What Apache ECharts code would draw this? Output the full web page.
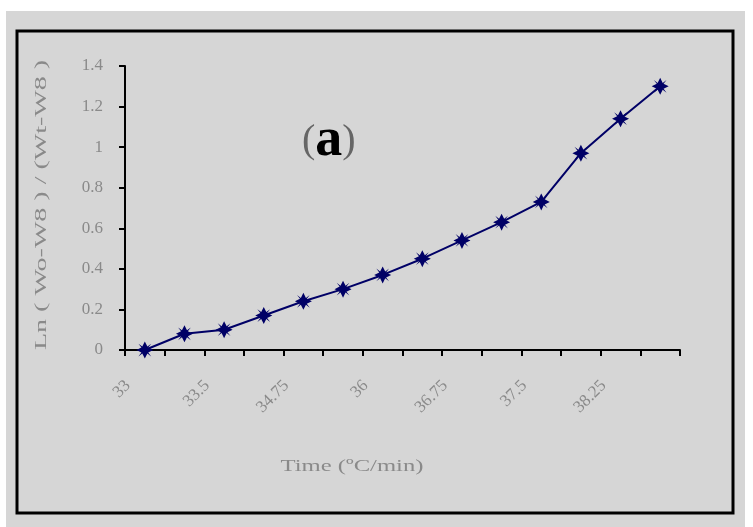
<!DOCTYPE html>
<html>
<head>
<meta charset="utf-8">
<script src="https://cdn.jsdelivr.net/npm/echarts@6/dist/echarts.min.js"></script>
<style>
html,body{margin:0;padding:0;background:#ffffff;}
#chart{width:753px;height:527px;}
</style>
</head>
<body>
<div id="chart"></div>
<script>
// categories (heating temperature / time axis); only every other label is shown
var categories = ["33", "33.25", "33.5", "34.1", "34.75", "35.4", "36", "36.4", "36.75", "37.1", "37.5", "37.9", "38.25", "38.6"];
// Ln (Wo-W8)/(Wt-W8) values
var values = [0, 0.08, 0.10, 0.17, 0.24, 0.30, 0.37, 0.45, 0.54, 0.63, 0.73, 0.97, 1.14, 1.30];
var yTicks = [0, 0.2, 0.4, 0.6, 0.8, 1, 1.2, 1.4];
var xTitle = 'Time (\u00baC/min)';
var yTitle = 'Ln ( Wo-W8 ) / (Wt-W8 )';

var chart = echarts.init(document.getElementById('chart'), null, {renderer: 'canvas'});
var serif = '"Liberation Serif", "DejaVu Serif", serif';
var starPath = 'path://M0,-10 L3,-4 L7.5,-7.5 L4,-3 L10,0 L4,3 L7.5,7.5 L3,4 L0,10 L-3,4 L-7.5,7.5 L-4,3 L-10,0 L-4,-3 L-7.5,-7.5 L-3,-4 Z';

var option = {
  backgroundColor: '#ffffff',
  animation: false,
  graphic: [
    {type: 'rect', z: -10, shape: {x: 6, y: 11, width: 739, height: 516}, style: {fill: '#d6d6d6'}},
    {type: 'rect', z: -9, shape: {x: 17, y: 31, width: 716, height: 482}, style: {fill: 'none', stroke: '#000000', lineWidth: 3}},
    {type: 'text', x: 302, y: 114, z: 10,
      style: {
        text: '{p|(}{a|a}{p|)}',
        rich: {
          p: {fontFamily: serif, fontSize: 40, fill: '#666666'},
          a: {fontFamily: serif, fontSize: 54, fontWeight: 'bold', fill: '#000000'}
        }
      }
    },
    {type: 'text', x: 352, y: 467, scaleX: 1.45, z: 10,
      style: {text: xTitle, fontFamily: serif, fontSize: 17, fill: '#8a8a8a', align: 'center', verticalAlign: 'middle'}
    },
    {type: 'text', x: 42, y: 205, rotation: Math.PI / 2, scaleX: 1.75, z: 10,
      style: {text: yTitle, fontFamily: serif, fontSize: 16, fill: '#8a8a8a', align: 'center', verticalAlign: 'middle'}
    }
  ],
  grid: {left: 125, right: 73, top: 66, bottom: 177, containLabel: false},
  xAxis: {
    type: 'category',
    data: categories,
    boundaryGap: true,
    axisLine: {lineStyle: {color: '#000000', width: 2}},
    axisTick: {show: true, interval: 0, alignWithLabel: false, length: 6, lineStyle: {color: '#000', width: 2}},
    axisLabel: {interval: 1, rotate: 45, margin: 16, padding: [0, 24, 0, 0], fontFamily: serif, fontSize: 17, color: '#8a8a8a'},
    splitLine: {show: false}
  },
  yAxis: {
    type: 'value',
    min: 0,
    max: 1.4,
    interval: 0.2,
    axisLine: {show: true, lineStyle: {color: '#000000', width: 2}},
    axisTick: {show: true, length: 6, lineStyle: {color: '#000', width: 2}},
    axisLabel: {margin: 22, fontFamily: serif, fontSize: 17, color: '#8a8a8a',
      formatter: function (v) { return String(Math.round(v * 10) / 10); }},
    splitLine: {show: false}
  },
  series: [{
    type: 'line',
    data: values,
    symbol: starPath,
    symbolSize: 17,
    lineStyle: {color: '#000066', width: 2},
    itemStyle: {color: '#000066'},
    z: 5
  }]
};
chart.setOption(option);
</script>
</body>
</html>
